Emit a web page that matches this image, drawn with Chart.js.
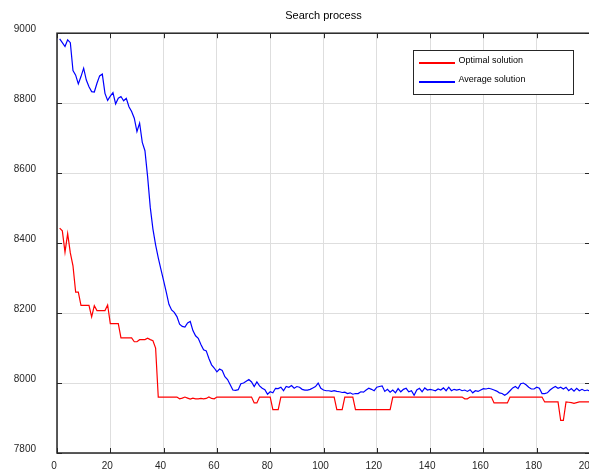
<!DOCTYPE html>
<html>
<head>
<meta charset="utf-8">
<title>Search process</title>
<script src="https://cdn.jsdelivr.net/npm/chart.js@4/dist/chart.umd.min.js"></script>
<style>
  html, body { margin:0; padding:0; background:#fff; overflow:hidden; }
  #clip { width:589px; height:472px; overflow:hidden; position:relative; }
  #wrap { width:600px; height:472px; }
</style>
</head>
<body>
<div id="clip"><div id="wrap"><canvas id="chart"></canvas></div></div>
<script>
// valores (iterações 1..200)
const optimalSolution = [
  8443, 8435, 8374, 8427, 8372, 8335, 8260, 8260, 8222, 8222,
  8222, 8222, 8189, 8221, 8207, 8207, 8207, 8207, 8223, 8170,
  8170, 8170, 8170, 8129, 8129, 8129, 8129, 8129, 8118, 8118,
  8124, 8124, 8124, 8128, 8124, 8121, 8100, 7960, 7960, 7960,
  7960, 7960, 7960, 7960, 7960, 7955, 7957, 7960, 7957, 7954,
  7957, 7955, 7955, 7956, 7955, 7956, 7960, 7956, 7955, 7960,
  7960, 7960, 7960, 7960, 7960, 7960, 7960, 7960, 7960, 7960,
  7960, 7960, 7960, 7943, 7943, 7960, 7960, 7960, 7960, 7960,
  7924, 7924, 7924, 7960, 7960, 7960, 7960, 7960, 7960, 7960,
  7960, 7960, 7960, 7960, 7960, 7960, 7960, 7960, 7960, 7960,
  7960, 7960, 7960, 7960, 7924, 7924, 7924, 7960, 7960, 7960,
  7960, 7924, 7924, 7924, 7924, 7924, 7924, 7924, 7924, 7924,
  7924, 7924, 7924, 7924, 7924, 7960, 7960, 7960, 7960, 7960,
  7960, 7960, 7960, 7960, 7960, 7960, 7960, 7960, 7960, 7960,
  7960, 7960, 7960, 7960, 7960, 7960, 7960, 7960, 7960, 7960,
  7960, 7960, 7955, 7955, 7960, 7960, 7960, 7960, 7960, 7960,
  7960, 7960, 7960, 7943, 7943, 7943, 7943, 7943, 7943, 7960,
  7960, 7960, 7960, 7960, 7960, 7960, 7960, 7960, 7960, 7960,
  7960, 7960, 7946, 7946, 7946, 7946, 7946, 7946, 7893, 7893,
  7946, 7945, 7944, 7942, 7944, 7946, 7946, 7946, 7946, 7946
];
const averageSolution = [
  8984, 8973, 8962, 8981, 8973, 8893, 8880, 8855, 8876, 8900,
  8866, 8847, 8833, 8832, 8857, 8878, 8883, 8828, 8808, 8820,
  8830, 8798, 8814, 8819, 8807, 8814, 8790, 8776, 8757, 8719,
  8743, 8688, 8664, 8590, 8502, 8440, 8395, 8358, 8325, 8293,
  8260, 8225, 8209, 8202, 8190, 8168, 8162, 8160, 8172, 8176,
  8150, 8135, 8128, 8110, 8095, 8092, 8070, 8052, 8043, 8032,
  8040, 8036, 8018, 8010, 7995, 7980, 7979, 7981, 7998, 8000,
  8005, 8010, 8003, 7990, 8003, 7992, 7985, 7981, 7968, 7975,
  7972, 7985, 7984, 7988, 7978, 7990, 7988, 7993, 7985, 7990,
  7988, 7982, 7980, 7980, 7982, 7986, 7990, 8000, 7985, 7980,
  7978, 7978, 7976, 7978, 7976, 7975, 7973, 7974, 7970, 7972,
  7968, 7970, 7970, 7975, 7974, 7980, 7985, 7982, 7978, 7988,
  7990, 7992, 7976, 7982, 7974, 7980, 7972, 7984, 7975, 7982,
  7985, 7975, 7978, 7965, 7980, 7985, 7975, 7986, 7980, 7982,
  7980, 7978, 7983, 7980, 7986, 7978, 7988, 7978, 7982, 7980,
  7982, 7978, 7980, 7976, 7981, 7972, 7978, 7976, 7980, 7984,
  7983, 7985, 7983, 7980, 7977, 7972, 7970, 7965, 7970, 7978,
  7986, 7990, 7984, 7998, 8000, 7995, 7988, 7983, 7983, 7988,
  7985, 7970, 7970, 7972, 7980, 7986, 7990, 7985, 7988, 7983,
  7988, 7978, 7984, 7977, 7985, 7978, 7982, 7978, 7980, 7977
];
const iterations = optimalSolution.map((_, k) => k + 1);
const seriesNames = ['Optimal solution', 'Average solution'];
const seriesColors = ['#ff0000', '#0000ff'];
const xTicks = { min: 0, max: 200, step: 20 };
const yTicks = { min: 7800, max: 9000, step: 200 };

const FONT = '"Liberation Sans", Arial, Helvetica, sans-serif';
const AXIS_COLOR = '#262626';

function points(values){ return values.map((v, k) => ({ x: iterations[k], y: v })); }

// caixa dos eixos com ticks para dentro, estilo matlab
const boxPlugin = {
  id: 'boxAxes',
  afterDatasetsDraw(chart){
    const { ctx, chartArea: a, scales } = chart;
    const len = 5;
    ctx.save();
    ctx.strokeStyle = AXIS_COLOR;
    ctx.lineWidth = 1;
    ctx.beginPath();
    scales.x.ticks.forEach(t => {
      const px = Math.round(scales.x.getPixelForValue(t.value)) + 0.5;
      ctx.moveTo(px, a.bottom); ctx.lineTo(px, a.bottom - len);
      ctx.moveTo(px, a.top); ctx.lineTo(px, a.top + len);
    });
    scales.y.ticks.forEach(t => {
      const py = Math.round(scales.y.getPixelForValue(t.value)) + 0.5;
      ctx.moveTo(a.left, py); ctx.lineTo(a.left + len, py);
      ctx.moveTo(a.right, py); ctx.lineTo(a.right - len, py);
    });
    ctx.stroke();
    ctx.lineWidth = 1.5;
    ctx.strokeRect(a.left, a.top, a.right - a.left, a.bottom - a.top);
    ctx.restore();
  }
};

// legenda desenhada dentro da área do gráfico (canto superior direito)
const legendBoxPlugin = {
  id: 'legendBox',
  afterDraw(chart, args, opts){
    const { ctx, chartArea: a } = chart;
    const w = opts.width, h = opts.height;
    const left = Math.round(a.right - opts.inset - w) + 0.5;
    const top = Math.round(a.top + opts.inset) + 0.5;
    ctx.save();
    ctx.fillStyle = '#fff';
    ctx.fillRect(left, top, w, h);
    ctx.strokeStyle = AXIS_COLOR;
    ctx.lineWidth = 1;
    ctx.strokeRect(left, top, w, h);
    ctx.font = `9px ${FONT}`;
    ctx.textBaseline = 'middle';
    ctx.textAlign = 'left';
    chart.data.datasets.forEach((ds, i) => {
      const y = Math.round(top + opts.firstRow + i * opts.rowGap);
      // amostra da linha da série
      ctx.fillStyle = seriesColors[i];
      ctx.fillRect(Math.round(left + 5), y, 36, 2);
      ctx.fillStyle = '#000';
      ctx.fillText(ds.label, left + 45, y - 1);
    });
    ctx.restore();
  }
};

Chart.defaults.font.family = FONT;

new Chart(document.getElementById('chart').getContext('2d'), {
  type: 'line',
  data: {
    datasets: seriesNames.map((name, i) => ({
      label: name,
      data: points(i === 0 ? optimalSolution : averageSolution),
      borderColor: seriesColors[i],
      backgroundColor: seriesColors[i],
      borderWidth: 1.2,
      pointRadius: 0,
      tension: 0,
      fill: false
    }))
  },
  options: {
    responsive: true,
    maintainAspectRatio: false,
    animation: false,
    layout: { padding: { left: 0, right: 10, top: 0, bottom: 0 } },
    plugins: {
      legend: { display: false },
      tooltip: { enabled: false },
      title: {
        display: true,
        fullSize: false,
        text: 'Search process',
        color: '#000',
        font: { size: 11, weight: 'normal' },
        padding: { top: 9, bottom: 11 }
      },
      legendBox: { width: 160, height: 44, inset: 17, firstRow: 11, rowGap: 19.5 }
    },
    scales: {
      x: {
        type: 'linear',
        min: xTicks.min, max: xTicks.max,
        ticks: { stepSize: xTicks.step, color: AXIS_COLOR, font: { size: 10 }, padding: 7, labelOffset: -3, maxRotation: 0,
                 callback: v => String(v) },
        grid: { color: '#dedede', drawTicks: false },
        border: { display: false },
        afterFit(scale){ scale.height = 19; scale.paddingLeft = 0; scale.paddingRight = 0; }
      },
      y: {
        min: yTicks.min, max: yTicks.max,
        ticks: { stepSize: yTicks.step, color: AXIS_COLOR, font: { size: 10 }, padding: 21, labelOffset: -4,
                 callback: v => String(v) },
        grid: { color: '#dedede', drawTicks: false },
        border: { display: false },
        afterFit(scale){ scale.width = 57; scale.paddingTop = 0; scale.paddingBottom = 0; }
      }
    }
  },
  plugins: [boxPlugin, legendBoxPlugin]
});
</script>
</body>
</html>
